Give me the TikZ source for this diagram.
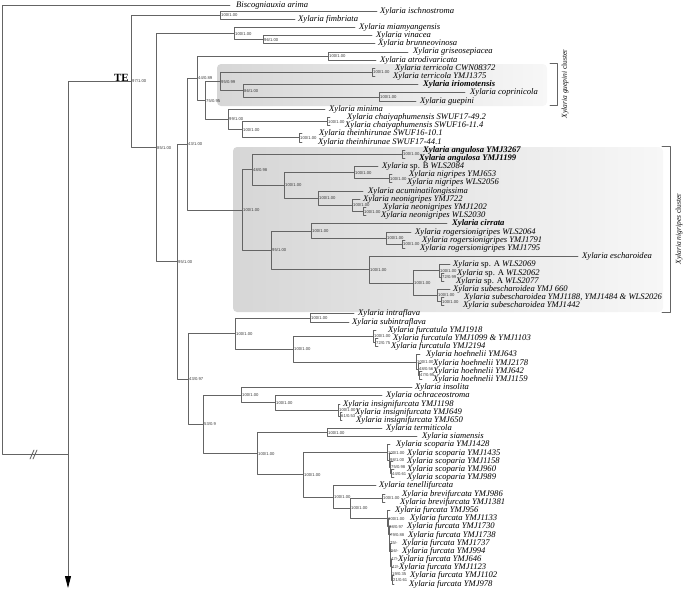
\documentclass[tikz,border=0pt]{standalone}
\usepackage{fontspec}
\setmainfont{Liberation Serif}
\newfontfamily\supfont{Liberation Sans}
\usepackage{tikz}
\usetikzlibrary{arrows.meta}

\definecolor{TreeGray}{RGB}{100,100,100}
\definecolor{SupGray}{RGB}{60,60,60}
\definecolor{BoxGray}{RGB}{214,214,214}
\definecolor{BoxLight}{RGB}{247,247,247}

\tikzset{
  branch/.style={draw=TreeGray,line width=0.85pt},
  taxon/.style={anchor=west,inner sep=0pt,font=\fontsize{8.6}{9}\selectfont\itshape},
  support/.style={anchor=west,inner sep=0pt,xshift=1pt,text=SupGray,font=\supfont\fontsize{4.2}{4.2}\selectfont},
  cluster/.style={rotate=90,inner sep=0pt,font=\fontsize{7.5}{8}\selectfont},
}
% y of the i-th taxon row
\newcommand{\rowy}[1]{11+8.186*(#1)}
% inner node: name, parent, x, row, support
\newcommand{\cladeat}[5]{%
  \coordinate (#1) at (#3,{\rowy{#4}});
  \draw[branch] (#2) |- (#1);
  \node[support] (#1-s) at (#1) {#5};}
% taxon: name, parent, end of branch, x of text, row, text
\newcommand{\taxonat}[6]{%
  \coordinate (#1-e) at (#3,{\rowy{#5}});
  \draw[branch] (#2) |- (#1-e);
  \node[taxon] (#1) at (#4,{\rowy{#5}}) {#6};}

\begin{document}
\begin{tikzpicture}[line cap=round,line join=round,x=1pt,y=-1pt]
\useasboundingbox (0,0) rectangle (685,589);
% shaded clusters
\shade[left color=BoxGray,right color=BoxLight,rounded corners=4pt] (217,64) rectangle (547,106);
\shade[left color=BoxGray,right color=BoxLight,rounded corners=4pt] (233,147) rectangle (663,312);
% root and backbone
\coordinate (root) at (2,230);
\coordinate (nXY) at (68,454);
\coordinate (down) at (68,588);
\taxonat{bisc}{root}{230}{236}{-0.65}{Biscogniauxia arima}
\draw[branch] (root) |- (nXY);
\draw[branch,-{Triangle[length=12pt,width=6pt,color=black]}] (nXY) -- (down);
\draw[branch] (30,459) -- (34,450) (33,459) -- (37,450);
\cladeat{nTE}{nXY}{131}{8.59}{97/1.00}
\node[font=\bfseries\fontsize{11}{11}\selectfont,anchor=south east,inner sep=0pt] (te) at (129,82) {TE};
\cladeat{nA}{nTE}{220}{0.5}{100/1.00}
\taxonat{isch}{nA}{377}{380}{0}{Xylaria ischnostroma}
\taxonat{fimb}{nA}{295}{298}{1}{Xylaria fimbriata}
\cladeat{nB}{nTE}{156}{16.68}{85/1.00}
\cladeat{nC}{nB}{234}{2.75}{100/1.00}
\taxonat{miam}{nC}{355}{359}{2}{Xylaria miamyangensis}
\cladeat{nD}{nC}{263}{3.5}{96/1.00}
\taxonat{vina}{nD}{372}{376}{3}{Xylaria vinacea}
\taxonat{brun}{nD}{375}{378}{4}{Xylaria brunneovinosa}
\cladeat{nG}{nB}{177}{30.615}{95/1.00}
\cladeat{nH}{nG}{187}{16.273}{43/1.00}
\cladeat{nJ}{nH}{197}{8.219}{44/0.89}
\cladeat{nL}{nJ}{328}{5.5}{100/1.00}
\taxonat{gris}{nL}{408}{413}{5}{Xylaria griseosepiacea}
\taxonat{atro}{nL}{376}{380}{6}{Xylaria atrodivaricata}
\cladeat{nM}{nJ}{205}{10.9375}{75/0.95}
\cladeat{nN}{nM}{220}{8.625}{95/0.99}
\cladeat{nQ}{nN}{372}{7.5}{100/1.00}
\taxonat{terA}{nQ}{375}{395}{7}{Xylaria terricola CWN08372}
\taxonat{terB}{nQ}{375}{393}{8}{Xylaria terricola YMJ1375}
\cladeat{nP}{nN}{243}{9.75}{86/1.00}
\taxonat{irio}{nP}{418}{423}{9}{\bfseries Xylaria iriomotensis}
\cladeat{nR}{nP}{379}{10.5}{100/1.00}
\taxonat{copr}{nR}{465}{470}{10}{Xylaria coprinicola}
\taxonat{guep}{nR}{416}{420}{11}{Xylaria guepini}
\cladeat{nO}{nM}{228}{13.25}{99/1.00}
\taxonat{mini}{nO}{325}{329}{12}{Xylaria minima}
\cladeat{nS}{nO}{242}{14.5}{100/1.00}
\cladeat{nT}{nS}{327}{13.5}{100/1.00}
\taxonat{chaA}{nT}{330}{347}{13}{Xylaria chaiyaphumensis SWUF17-49.2}
\taxonat{chaB}{nT}{330}{345}{14}{Xylaria chaiyaphumensis SWUF16-11.4}
\cladeat{nU}{nS}{299}{15.5}{100/1.00}
\taxonat{theA}{nU}{302}{319}{15}{Xylaria theinhirunae SWUF16-10.1}
\taxonat{theB}{nU}{302}{318}{16}{Xylaria theinhirunae SWUF17-44.1}
% nigripes cluster
\cladeat{nK}{nH}{242}{24.328}{100/1.00}
\cladeat{nV}{nK}{252}{19.406}{48/0.98}
\cladeat{nX}{nV}{402}{17.5}{100/1.00}
\taxonat{angA}{nX}{405}{423}{17}{\bfseries Xylaria angulosa YMJ3267}
\taxonat{angB}{nX}{405}{419}{18}{\bfseries Xylaria angulosa YMJ1199}
\cladeat{nY}{nV}{284}{21.3125}{100/1.00}
\cladeat{nZ}{nY}{354}{19.75}{100/1.00}
\taxonat{spB}{nZ}{378}{382}{19}{Xylaria {\upshape sp. B} WLS2084}
\cladeat{nAB}{nZ}{389}{20.5}{100/1.00}
\taxonat{nigA}{nAB}{392}{409}{20}{Xylaria nigripes YMJ653}
\taxonat{nigB}{nAB}{392}{407}{21}{Xylaria nigripes WLS2056}
\cladeat{nAA}{nY}{318}{22.875}{100/1.00}
\taxonat{acum}{nAA}{363}{368}{22}{Xylaria acuminatilongissima}
\cladeat{nAC}{nAA}{352}{23.75}{100/1.00}
\taxonat{neoA}{nAC}{360}{363}{23}{Xylaria neonigripes YMJ722}
\cladeat{nAD}{nAC}{363}{24.5}{100/1.00}
\taxonat{neoB}{nAD}{366}{383}{24}{Xylaria neonigripes YMJ1202}
\taxonat{neoC}{nAD}{366}{381}{25}{Xylaria neonigripes WLS2030}
\cladeat{nW}{nK}{271}{29.25}{95/1.00}
\cladeat{nAF}{nW}{311}{26.875}{100/1.00}
\taxonat{cirr}{nAF}{447}{452}{26}{\bfseries Xylaria cirrata}
\cladeat{nAG}{nAF}{386}{27.75}{100/1.00}
\taxonat{rogA}{nAG}{411}{415}{27}{Xylaria rogersionigripes WLS2064}
\cladeat{nAH}{nAG}{402}{28.5}{100/1.00}
\taxonat{rogB}{nAH}{405}{422}{28}{Xylaria rogersionigripes YMJ1791}
\taxonat{rogC}{nAH}{405}{420}{29}{Xylaria rogersionigripes YMJ1795}
\cladeat{nAE}{nW}{369}{31.625}{100/1.00}
\taxonat{esch}{nAE}{578}{582}{30}{Xylaria escharoidea}
\cladeat{nAI}{nAE}{413}{33.25}{100/1.00}
\cladeat{nAJ}{nAI}{439}{31.75}{100/1.00}
\taxonat{spAa}{nAJ}{450}{453}{31}{Xylaria {\upshape sp. A} WLS2069}
\cladeat{nAL}{nAJ}{441}{32.5}{72/0.99}
\taxonat{spAb}{nAL}{444}{457}{32}{Xylaria {\upshape sp. A} WLS2062}
\taxonat{spAc}{nAL}{444}{456}{33}{Xylaria {\upshape sp. A} WLS2077}
\cladeat{nAK}{nAI}{437}{34.75}{100/1.00}
\taxonat{subA}{nAK}{450}{453}{34}{Xylaria subescharoidea YMJ 660}
\cladeat{nAM}{nAK}{441}{35.5}{100/1.00}
\taxonat{subB}{nAM}{444}{464}{35}{Xylaria subescharoidea YMJ1188, YMJ1484 \& WLS2026}
\taxonat{subC}{nAM}{444}{463}{36}{Xylaria subescharoidea YMJ1442}
% lower part
\cladeat{nI}{nG}{188}{44.957}{43/0.97}
\cladeat{nAN}{nI}{235}{39.406}{100/1.00}
\cladeat{nAP}{nAN}{310}{37.5}{100/1.00}
\taxonat{intr}{nAP}{354}{358}{37}{Xylaria intraflava}
\taxonat{subi}{nAP}{349}{352}{38}{Xylaria subintraflava}
\cladeat{nAQ}{nAN}{293}{41.3125}{100/1.00}
\cladeat{nAR}{nAQ}{373}{39.75}{100/1.00}
\taxonat{fulA}{nAR}{376}{388}{39}{Xylaria furcatula YMJ1918}
\cladeat{nAS}{nAR}{375}{40.5}{72/0.75}
\taxonat{fulB}{nAS}{378}{393}{40}{Xylaria furcatula YMJ1099 \& YMJ1103}
\taxonat{fulC}{nAS}{378}{391}{41}{Xylaria furcatula YMJ2194}
\cladeat{nAT}{nAQ}{416}{42.875}{100/1.00}
\taxonat{hoeA}{nAT}{420}{426}{42}{Xylaria hoehnelii YMJ643}
\cladeat{nAU}{nAT}{418}{43.75}{48/0.56}
\taxonat{hoeB}{nAU}{421}{433}{43}{Xylaria hoehnelii YMJ2178}
\cladeat{nAV}{nAU}{419}{44.5}{47/0.95}
\taxonat{hoeC}{nAV}{422}{433}{44}{Xylaria hoehnelii YMJ642}
\taxonat{hoeD}{nAV}{422}{433}{45}{Xylaria hoehnelii YMJ1159}
\cladeat{nAO}{nI}{203}{50.508}{53/0.9}
\cladeat{nAW}{nAO}{241}{46.9375}{100/1.00}
\taxonat{inso}{nAW}{412}{415}{46}{Xylaria insolita}
\cladeat{nAY}{nAW}{275}{47.875}{100/1.00}
\taxonat{ochr}{nAY}{382}{386}{47}{Xylaria ochraceostroma}
\cladeat{nAZ}{nAY}{338}{48.75}{100/1.00}
\taxonat{insA}{nAZ}{340}{343}{48}{Xylaria insignifurcata YMJ1198}
\cladeat{nBA}{nAZ}{340}{49.5}{61/0.53}
\taxonat{insB}{nBA}{342}{355}{49}{Xylaria insignifurcata YMJ649}
\taxonat{insC}{nBA}{342}{356}{50}{Xylaria insignifurcata YMJ650}
\cladeat{nAX}{nAO}{257}{54.078}{100/1.00}
\cladeat{nBB}{nAX}{327}{51.5}{100/1.00}
\taxonat{term}{nBB}{382}{386}{51}{Xylaria termiticola}
\taxonat{siam}{nBB}{417}{422}{52}{Xylaria siamensis}
\cladeat{nBC}{nAX}{303}{56.656}{100/1.00}
\cladeat{nBD}{nBC}{387}{53.9375}{100/1.00}
\taxonat{scoA}{nBD}{390}{396}{53}{Xylaria scoparia YMJ1428}
\cladeat{nBF}{nBD}{389}{54.875}{98/1.00}
\taxonat{scoB}{nBF}{392}{407}{54}{Xylaria scoparia YMJ1435}
\cladeat{nBG}{nBF}{390}{55.75}{75/0.98}
\taxonat{scoC}{nBG}{393}{407}{55}{Xylaria scoparia YMJ1158}
\cladeat{nBH}{nBG}{391}{56.5}{44/0.61}
\taxonat{scoD}{nBH}{394}{407}{56}{Xylaria scoparia YMJ960}
\taxonat{scoE}{nBH}{394}{407}{57}{Xylaria scoparia YMJ989}
\cladeat{nBE}{nBC}{333}{59.375}{100/1.00}
\taxonat{tene}{nBE}{376}{379}{58}{Xylaria tenellifurcata}
\cladeat{nBI}{nBE}{350}{60.75}{100/1.00}
\cladeat{nBJ}{nBI}{382}{59.5}{100/1.00}
\taxonat{breA}{nBJ}{385}{402}{59}{Xylaria brevifurcata YMJ986}
\taxonat{breB}{nBJ}{385}{400}{60}{Xylaria brevifurcata YMJ1381}
\cladeat{nBK}{nBI}{387}{61.998}{100/1.00}
\taxonat{fuA}{nBK}{390}{395}{61}{Xylaria furcata YMJ956}
\cladeat{nK1}{nBK}{388}{62.995}{98/0.97}
\taxonat{fuB}{nK1}{390}{410}{62}{Xylaria furcata YMJ1133}
\cladeat{nK2}{nK1}{389}{63.99}{79/0.88}
\taxonat{fuC}{nK2}{391}{407}{63}{Xylaria furcata YMJ1730}
\cladeat{nK3}{nK2}{389}{64.98}{75/-}
\taxonat{fuD}{nK3}{391}{408}{64}{Xylaria furcata YMJ1738}
\cladeat{nK4}{nK3}{390}{65.97}{56/-}
\taxonat{fuE}{nK4}{392}{402}{65}{Xylaria furcata YMJ1737}
\cladeat{nK5}{nK4}{390}{66.9375}{47/-}
\taxonat{fuF}{nK5}{392}{402}{66}{Xylaria furcata YMJ994}
\cladeat{nK6}{nK5}{391}{67.875}{42/-}
\taxonat{fuG}{nK6}{393}{398}{67}{Xylaria furcata YMJ646}
\cladeat{nK7}{nK6}{391}{68.75}{19/0.35}
\taxonat{fuH}{nK7}{393}{399}{68}{Xylaria furcata YMJ1123}
\cladeat{nK8}{nK7}{392}{69.5}{21/0.61}
\taxonat{fuI}{nK8}{394}{410}{69}{Xylaria furcata YMJ1102}
\taxonat{fuJ}{nK8}{394}{409}{70}{Xylaria furcata YMJ978}
% cluster brackets
\coordinate (gTop) at (557,63);
\coordinate (gBot) at (557,105);
\draw[branch] (550,63) -- (gTop) -- (gBot) -- (550,105);
\node[cluster] (glab) at (565,84) {\itshape Xylaria guepini \upshape cluster};
\coordinate (nTop) at (670,146);
\coordinate (nBot) at (670,312);
\draw[branch] (662,146) -- (nTop) -- (nBot) -- (662,312);
\node[cluster] (nlab) at (679,229) {\itshape Xylaria nigripes \upshape cluster};
\end{tikzpicture}
\end{document}
